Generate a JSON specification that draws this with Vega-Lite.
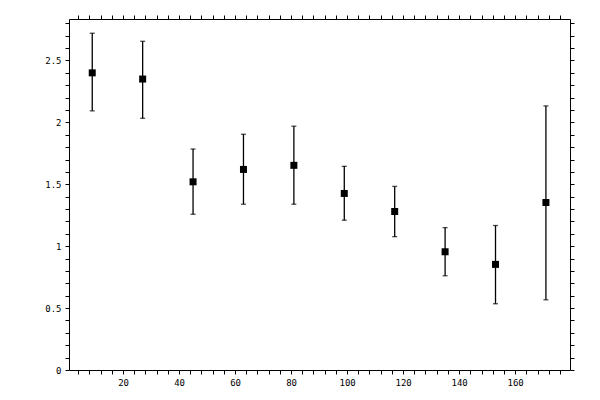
{
  "$schema": "https://vega.github.io/schema/vega-lite/v6.json",
  "description": "Binned means with error bars",
  "autosize": "none",
  "padding": {"left": 69, "top": 19, "right": 30, "bottom": 30},
  "width": 501,
  "height": 351,
  "background": "white",
  "data": {
    "values": [
      {"x": 9, "mean": 2.40, "lo": 2.093, "hi": 2.72},
      {"x": 27, "mean": 2.35, "lo": 2.033, "hi": 2.655},
      {"x": 45, "mean": 1.52, "lo": 1.258, "hi": 1.785},
      {"x": 63, "mean": 1.62, "lo": 1.339, "hi": 1.904},
      {"x": 81, "mean": 1.653, "lo": 1.339, "hi": 1.969},
      {"x": 99, "mean": 1.426, "lo": 1.21, "hi": 1.645},
      {"x": 117, "mean": 1.28, "lo": 1.077, "hi": 1.483},
      {"x": 135, "mean": 0.955, "lo": 0.761, "hi": 1.15},
      {"x": 153, "mean": 0.853, "lo": 0.535, "hi": 1.167},
      {"x": 171, "mean": 1.353, "lo": 0.567, "hi": 2.133}
    ]
  },
  "layer": [
    {
      "mark": {"type": "rule", "color": "black", "strokeWidth": 1.3},
      "encoding": {
        "x": {
          "field": "x", "type": "quantitative",
          "scale": {"domain": [0.7, 179.6], "nice": false, "zero": false},
          "axis": {
            "orient": "bottom", "title": null, "grid": false,
            "values": [4, 8, 12, 16, 20, 24, 28, 32, 36, 40, 44, 48, 52, 56, 60, 64, 68, 72, 76, 80, 84, 88, 92, 96, 100, 104, 108, 112, 116, 120, 124, 128, 132, 136, 140, 144, 148, 152, 156, 160, 164, 168, 172, 176],
            "labelExpr": "datum.value % 20 === 0 ? datum.label : ''",
            "tickSize": 4, "labelPadding": 4,
            "encode": {"ticks": {"update": {
              "y": {"signal": "datum.value % 20 === 0 ? -4 : -3"},
              "y2": {"signal": "datum.value % 20 === 0 ? 1 : 0"}
            }}}
          }
        },
        "y": {
          "field": "lo", "type": "quantitative",
          "scale": {"domain": [0, 2.835], "nice": false},
          "axis": {
            "orient": "left", "title": null, "grid": false,
            "values": [0, 0.1, 0.2, 0.3, 0.4, 0.5, 0.6, 0.7, 0.8, 0.9, 1, 1.1, 1.2, 1.3, 1.4, 1.5, 1.6, 1.7, 1.8, 1.9, 2, 2.1, 2.2, 2.3, 2.4, 2.5, 2.6, 2.7, 2.8],
            "labelExpr": "abs(datum.value * 2 - round(datum.value * 2)) < 0.000001 ? format(datum.value, '~g') : ''",
            "tickSize": 4, "labelPadding": 4,
            "encode": {"ticks": {"update": {
              "x": {"signal": "abs(datum.value * 2 - round(datum.value * 2)) < 0.000001 ? -4 : 0"},
              "x2": {"signal": "abs(datum.value * 2 - round(datum.value * 2)) < 0.000001 ? 4 : 3"}
            }}}
          }
        },
        "y2": {"field": "hi"}
      }
    },
    {
      "mark": {"type": "tick", "orient": "horizontal", "size": 5, "thickness": 1.3, "color": "black"},
      "encoding": {
        "x": {
          "field": "x", "type": "quantitative",
          "axis": {
            "orient": "top", "title": null, "grid": false, "labels": false,
            "values": [4, 8, 12, 16, 20, 24, 28, 32, 36, 40, 44, 48, 52, 56, 60, 64, 68, 72, 76, 80, 84, 88, 92, 96, 100, 104, 108, 112, 116, 120, 124, 128, 132, 136, 140, 144, 148, 152, 156, 160, 164, 168, 172, 176],
            "tickSize": 4,
            "encode": {"ticks": {"update": {
              "y": {"signal": "datum.value % 20 === 0 ? -4 : -3"},
              "y2": {"signal": "datum.value % 20 === 0 ? 4 : 0"}
            }}}
          }
        },
        "y": {
          "field": "hi", "type": "quantitative",
          "axis": {
            "orient": "right", "title": null, "grid": false, "labels": false,
            "values": [0, 0.1, 0.2, 0.3, 0.4, 0.5, 0.6, 0.7, 0.8, 0.9, 1, 1.1, 1.2, 1.3, 1.4, 1.5, 1.6, 1.7, 1.8, 1.9, 2, 2.1, 2.2, 2.3, 2.4, 2.5, 2.6, 2.7, 2.8],
            "tickSize": 4,
            "encode": {"ticks": {"update": {
              "x": {"signal": "abs(datum.value * 2 - round(datum.value * 2)) < 0.000001 ? -4 : 0"},
              "x2": {"signal": "abs(datum.value * 2 - round(datum.value * 2)) < 0.000001 ? 4 : 3"}
            }}}
          }
        }
      }
    },
    {
      "mark": {"type": "tick", "orient": "horizontal", "size": 5, "thickness": 1.3, "color": "black"},
      "encoding": {
        "x": {"field": "x", "type": "quantitative", "axis": null},
        "y": {"field": "lo", "type": "quantitative", "axis": null}
      }
    },
    {
      "mark": {"type": "point", "shape": "square", "filled": true, "size": 49, "color": "black", "opacity": 1, "strokeWidth": 0},
      "encoding": {
        "x": {"field": "x", "type": "quantitative", "axis": null},
        "y": {"field": "mean", "type": "quantitative", "axis": null}
      }
    }
  ],
  "resolve": {"axis": {"x": "independent", "y": "independent"}},
  "config": {
    "view": {"stroke": null},
    "axis": {
      "domainColor": "black", "domainWidth": 1,
      "tickColor": "black", "tickWidth": 1,
      "labelColor": "black", "labelFont": "DejaVu Sans Mono", "labelFontSize": 9
    }
  }
}
